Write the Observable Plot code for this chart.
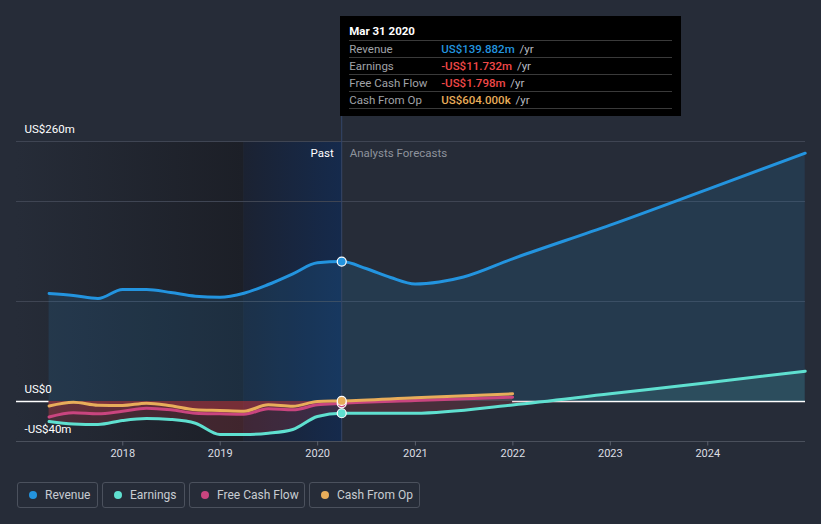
<!DOCTYPE html>
<html><head><meta charset="utf-8">
<script src="https://cdn.jsdelivr.net/npm/d3@7"></script>
<script src="https://cdn.jsdelivr.net/npm/@observablehq/plot@0.6"></script>
<style>
body{margin:0;background:#262c38;font-family:Roboto,"Open Sans",sans-serif;}
#wrap{position:relative;width:821px;height:524px;overflow:hidden;background:#262c38;}
#chart{position:absolute;left:0;top:0;}
#tip{position:absolute;top:16px;width:341px;height:100px;background:#000;box-sizing:border-box;padding:0 9px;}
#tip .title{color:#fff;font-weight:bold;font-size:11.5px;height:24px;line-height:14px;padding-top:8px;box-sizing:border-box;}
#tip .row{position:relative;height:17px;border-top:1px solid #3a3a3a;box-sizing:border-box;font-size:11.5px;line-height:16px;color:#a0a3a8;}
#tip .row:last-child{border-bottom:1px solid #3a3a3a;height:18px;}
#tip .val{position:absolute;left:92px;top:0;font-weight:500;}
#tip .unit{color:#b8bbc0;font-weight:normal;margin-left:2px;}
.leg{position:absolute;top:482px;height:26px;border:1px solid #4b515d;border-radius:3px;box-sizing:border-box;color:#c8ccd2;font-size:12px;line-height:24px;}
.leg .dot{position:absolute;left:11px;top:8px;width:8px;height:8px;border-radius:50%;}
.leg .txt{position:absolute;left:27px;top:0;white-space:nowrap;}
</style></head><body>
<div id="wrap"><div id="chart"></div><div id="tip"></div><div id="legendBox"></div></div>
<script>
// ---- data (US$ millions) ----
const pastDates = ["2017-03-31","2017-06-30","2017-09-30","2017-12-31","2018-03-31","2018-06-30","2018-09-30","2018-12-31","2019-03-31","2019-06-30","2019-09-30","2019-12-31","2020-03-31"];
const revenuePast  = [108, 106, 103, 112, 112, 109, 105.3, 104.3, 108.3, 117, 127.7, 138.7, 139.882];
const earningsPast = [-20, -22.5, -23, -19, -17, -18, -21.7, -33, -33, -31.7, -28, -15, -11.732];
const fcfPast      = [-15.5, -11.3, -12.3, -9.7, -6.7, -8.3, -11.7, -12.3, -12.7, -7.3, -8.3, -3.3, -1.798];
const cfoPast      = [-4.5, -0.7, -3.7, -4, -1.7, -4.3, -8.3, -9, -9.7, -3.3, -4.7, 0, 0.604];

const revenueFcDates = ["2020-03-31","2020-06-30","2020-09-30","2020-12-31","2021-03-31","2021-06-30","2021-12-31","2022-12-31","2023-12-31","2024-12-31"];
const revenueFc      = [139.882, 133, 124, 117.5, 119.5, 124.5, 142.7, 176.4, 212.2, 248.3];
const earningsFcDates = ["2020-03-31","2020-12-31","2021-12-31","2022-12-31","2023-12-31","2024-12-31"];
const earningsFc      = [-11.732, -11.7, -3.4, 7.7, 18.7, 30.3];
const cashFcDates = ["2020-03-31","2020-12-31","2021-12-31"];
const fcfFc       = [-1.798, 1.0, 4.3];
const cfoFc       = [0.604, 3.7, 7.7];

const yearTicks = ["2018","2019","2020","2021","2022","2023","2024"];
const gridValues = [100, 200, 260];
const yLabelValues = [260, 0, -40];
const yLabelTexts = ["US$260m", "US$0", "-US$40m"];

const seriesNames = ["Revenue","Earnings","Free Cash Flow","Cash From Op"];
const seriesColors = ["#2394df","#5fe0d0","#c9457f","#e8ad5a"];

const tipDate = "Mar 31 2020";
const tipValues = ["US$139.882m","-US$11.732m","-US$1.798m","US$604.000k"];
const tipValueColors = ["#2394df","#f04848","#f04848","#e8ad5a"];

// ---- build ----
const parse = d3.utcParse("%Y-%m-%d");
const rows = (dates, vals) => dates.map((d, i) => ({date: parse(d), value: vals[i]}));
const revenue  = rows(pastDates, revenuePast).concat(rows(revenueFcDates, revenueFc).slice(1));
const earnings = rows(pastDates, earningsPast).concat(rows(earningsFcDates, earningsFc).slice(1));
const fcf      = rows(pastDates, fcfPast).concat(rows(cashFcDates, fcfFc).slice(1));
const cfo      = rows(pastDates, cfoPast).concat(rows(cashFcDates, cfoFc).slice(1));

const xStart = parse("2016-11-29"), xEnd = parse("2025-01-01");
const nowDate = parse("2020-03-31"), bandStart = parse("2019-03-31");
const firstDate = parse(pastDates[0]), cashEnd = parse(cashFcDates[cashFcDates.length - 1]);
const tickDates = yearTicks.map(y => parse(y + "-01-01"));
const curve = "monotone-x";
const red = "#e0404a";

const signedAreas = (data, color) => [
  Plot.areaY(data, {x: "date", y1: 0, y2: d => Math.min(d.value, 0), fill: red, fillOpacity: 0.19, curve}),
  Plot.areaY(data, {x: "date", y1: 0, y2: d => Math.max(d.value, 0), fill: color, fillOpacity: 0.12, curve})
];

const chart = Plot.plot({
  width: 821, height: 470,
  marginLeft: 16, marginRight: 16, marginTop: 141, marginBottom: 29,
  x: {type: "utc", domain: [xStart, xEnd], axis: null},
  y: {domain: [-40, 260], axis: null},
  style: {background: "transparent", fontFamily: "Roboto, sans-serif", fontSize: "11px", color: "#dcdee3"},
  marks: [
    Plot.rect([0], {x1: () => xStart, x2: () => bandStart, y1: -40, y2: 260, fill: "url(#gDark)"}),
    Plot.rect([0], {x1: () => bandStart, x2: () => nowDate, y1: -40, y2: 260, fill: "url(#gPast)"}),
    Plot.ruleY(gridValues, {stroke: "#3f4553", strokeWidth: 1}),
    Plot.ruleY([-40], {stroke: "#4a505c", strokeWidth: 1}),
    Plot.ruleX(tickDates, {y1: -40, y2: -44.5, stroke: "#5a606c"}),
    Plot.ruleY([{a: xStart, b: firstDate}, {a: cashEnd, b: xEnd}], {x1: "a", x2: "b", y: 0, stroke: "#ffffff", strokeWidth: 1.5}),
    Plot.areaY(revenue, {x: "date", y1: 0, y2: "value", fill: seriesColors[0], fillOpacity: 0.135, curve}),
    ...signedAreas(earnings, seriesColors[1]),
    ...signedAreas(fcf, seriesColors[2]),
    ...signedAreas(cfo, seriesColors[3]),
    Plot.ruleX([nowDate], {y1: -40, y2: 285, stroke: "#34466a", strokeWidth: 1}),
    Plot.lineY(earnings, {x: "date", y: "value", stroke: seriesColors[1], strokeWidth: 3, curve}),
    Plot.lineY(fcf, {x: "date", y: "value", stroke: seriesColors[2], strokeWidth: 3, curve}),
    Plot.lineY(cfo, {x: "date", y: "value", stroke: seriesColors[3], strokeWidth: 3, curve}),
    Plot.lineY(revenue, {x: "date", y: "value", stroke: seriesColors[0], strokeWidth: 3, curve}),
    Plot.dot([0], {x: () => nowDate, y: () => fcfPast[fcfPast.length - 1], r: 4.5, fill: seriesColors[2], stroke: "#fff", strokeWidth: 1.2}),
    Plot.dot([0], {x: () => nowDate, y: () => cfoPast[cfoPast.length - 1], r: 4.5, fill: seriesColors[3], stroke: "#fff", strokeWidth: 1.2}),
    Plot.dot([0], {x: () => nowDate, y: () => earningsPast[earningsPast.length - 1], r: 4.5, fill: seriesColors[1], stroke: "#fff", strokeWidth: 1.2}),
    Plot.dot([0], {x: () => nowDate, y: () => revenuePast[revenuePast.length - 1], r: 4.5, fill: seriesColors[0], stroke: "#fff", strokeWidth: 1.2}),
    Plot.axisX({ticks: tickDates, tickFormat: "%Y", tickSize: 0, tickPadding: 8, fill: "#dcdee3", fontSize: 11}),
    Plot.text(yLabelValues, {y: d => d, text: (d, i) => yLabelTexts[i], frameAnchor: "left", dx: 8, dy: -12, textAnchor: "start", fill: "#ffffff", fontSize: 11.5}),
    Plot.text(["Past"], {x: () => nowDate, y: () => 260, text: d => d, dx: -8, dy: 12, textAnchor: "end", fill: "#ffffff", fontSize: 11.5}),
    Plot.text(["Analysts Forecasts"], {x: () => nowDate, y: () => 260, text: d => d, dx: 8, dy: 12, textAnchor: "start", fill: "#8e939c", fontSize: 11.5})
  ]
});

d3.select(chart).insert("defs", ":first-child").html(`
  <linearGradient id="gDark" x1="0" x2="1" y1="0" y2="0">
    <stop offset="0" stop-color="#262c38"/><stop offset="1" stop-color="#1c1f27"/>
  </linearGradient>
  <linearGradient id="gPast" x1="0" x2="1" y1="0" y2="0">
    <stop offset="0" stop-color="#1b2232"/><stop offset="1" stop-color="#152a4c"/>
  </linearGradient>`);
document.getElementById("chart").appendChild(chart);

// tooltip, anchored to the x scale
const tip = document.getElementById("tip");
tip.style.left = (chart.scale("x").apply(nowDate) - 1) + "px";
tip.innerHTML = `<div class="title">${tipDate}</div>` + seriesNames.map((n, i) =>
  `<div class="row">${n}<span class="val" style="color:${tipValueColors[i]}">${tipValues[i]} <span class="unit">/yr</span></span></div>`).join("");

// legend
const legLeft = [17, 102, 189, 309], legWidth = [81, 83, 116, 111];
document.getElementById("legendBox").innerHTML = seriesNames.map((n, i) =>
  `<div class="leg" style="left:${legLeft[i]}px;width:${legWidth[i]}px"><span class="dot" style="background:${seriesColors[i]}"></span><span class="txt">${n}</span></div>`).join("");
</script>
</body></html>
